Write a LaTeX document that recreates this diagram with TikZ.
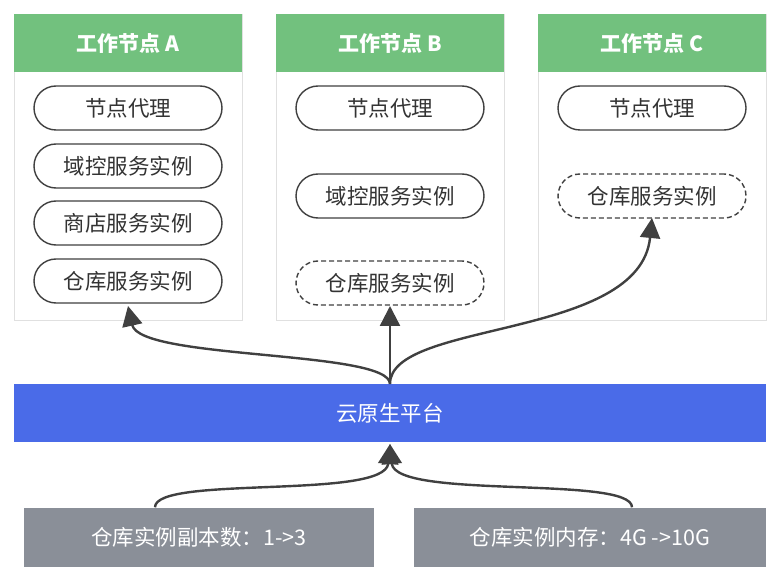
\documentclass[tikz,border=0pt]{standalone}
\usepackage{fontspec}
\setmainfont{Noto Sans CJK SC}
\usetikzlibrary{arrows.meta,positioning}
\definecolor{hdgreen}{HTML}{72C17E}
\definecolor{pfblue}{HTML}{4A6BE8}
\definecolor{opgray}{HTML}{8A8F98}
\definecolor{arrowgray}{HTML}{404040}
\tikzset{
	panel/.style={draw=black!12, fill=white, minimum width=228, minimum height=306, anchor=north west},
	header/.style={fill=hdgreen, text=white, font=\bfseries\fontsize{21}{21}\selectfont, minimum width=228, minimum height=58, anchor=north west},
	pill/.style={draw=black!75, line width=1.4, rounded corners=22, minimum width=188, minimum height=44, font=\fontsize{21.5}{21.5}\selectfont, text=black!80},
	planned/.style={pill, dash pattern=on 5 off 3},
	wide/.style={text=white, minimum height=59, font=\fontsize{21.5}{21.5}\selectfont},
	flow/.style={-{Triangle[length=20,width=20]}, line width=2.4, draw=arrowgray, color=arrowgray},
}
\begin{document}
\begin{tikzpicture}[x=1pt,y=-1pt]
	\useasboundingbox (0,0) rectangle (780,580);
	% worker nodes
	\node [panel] (pA) at (14,14) {};
	\node [panel] (pB) at (276,14) {};
	\node [panel] (pC) at (538,14) {};
	\node [header] (hA) at (14,14) {工作节点 A};
	\node [header] (hB) at (276,14) {工作节点 B};
	\node [header] (hC) at (538,14) {工作节点 C};
	\node [pill] (a1) at (128,108) {节点代理};
	\node [pill] (a2) at (128,166) {域控服务实例};
	\node [pill] (a3) at (128,223) {商店服务实例};
	\node [pill] (a4) at (128,281) {仓库服务实例};
	\node [pill] (b1) at (390,108) {节点代理};
	\node [pill] (b2) at (390,196) {域控服务实例};
	\node [planned] (b3) at (390,283) {仓库服务实例};
	\node [pill] (c1) at (652,108) {节点代理};
	\node [planned] (c2) at (652,196) {仓库服务实例};
	% platform
	\node [wide, fill=pfblue, minimum width=752, minimum height=58] (pf) at (390,413) {云原生平台};
	% operations
	\node [wide, fill=opgray, minimum width=350] (op1) at (199,537) {仓库实例副本数：1->3};
	\node [wide, fill=opgray, minimum width=352] (op2) at (590,537) {仓库实例内存：4G ->10G};
	\coordinate (top) at (390,384);
	\coordinate (bot) at (390,444);
	\draw [flow] (top) .. controls (390,350) and (140,360) .. (128,306);
	\draw [flow] (top) -- (390,306);
	\draw [flow] (top) .. controls (390,320) and (640,340) .. (652,218);
	\draw [flow] (op1.north -| 155,0) .. controls (155,475) and (385,500) .. (bot);
	\draw [flow] (op2.north -| 632,0) .. controls (632,475) and (395,500) .. (bot);
\end{tikzpicture}
\end{document}
